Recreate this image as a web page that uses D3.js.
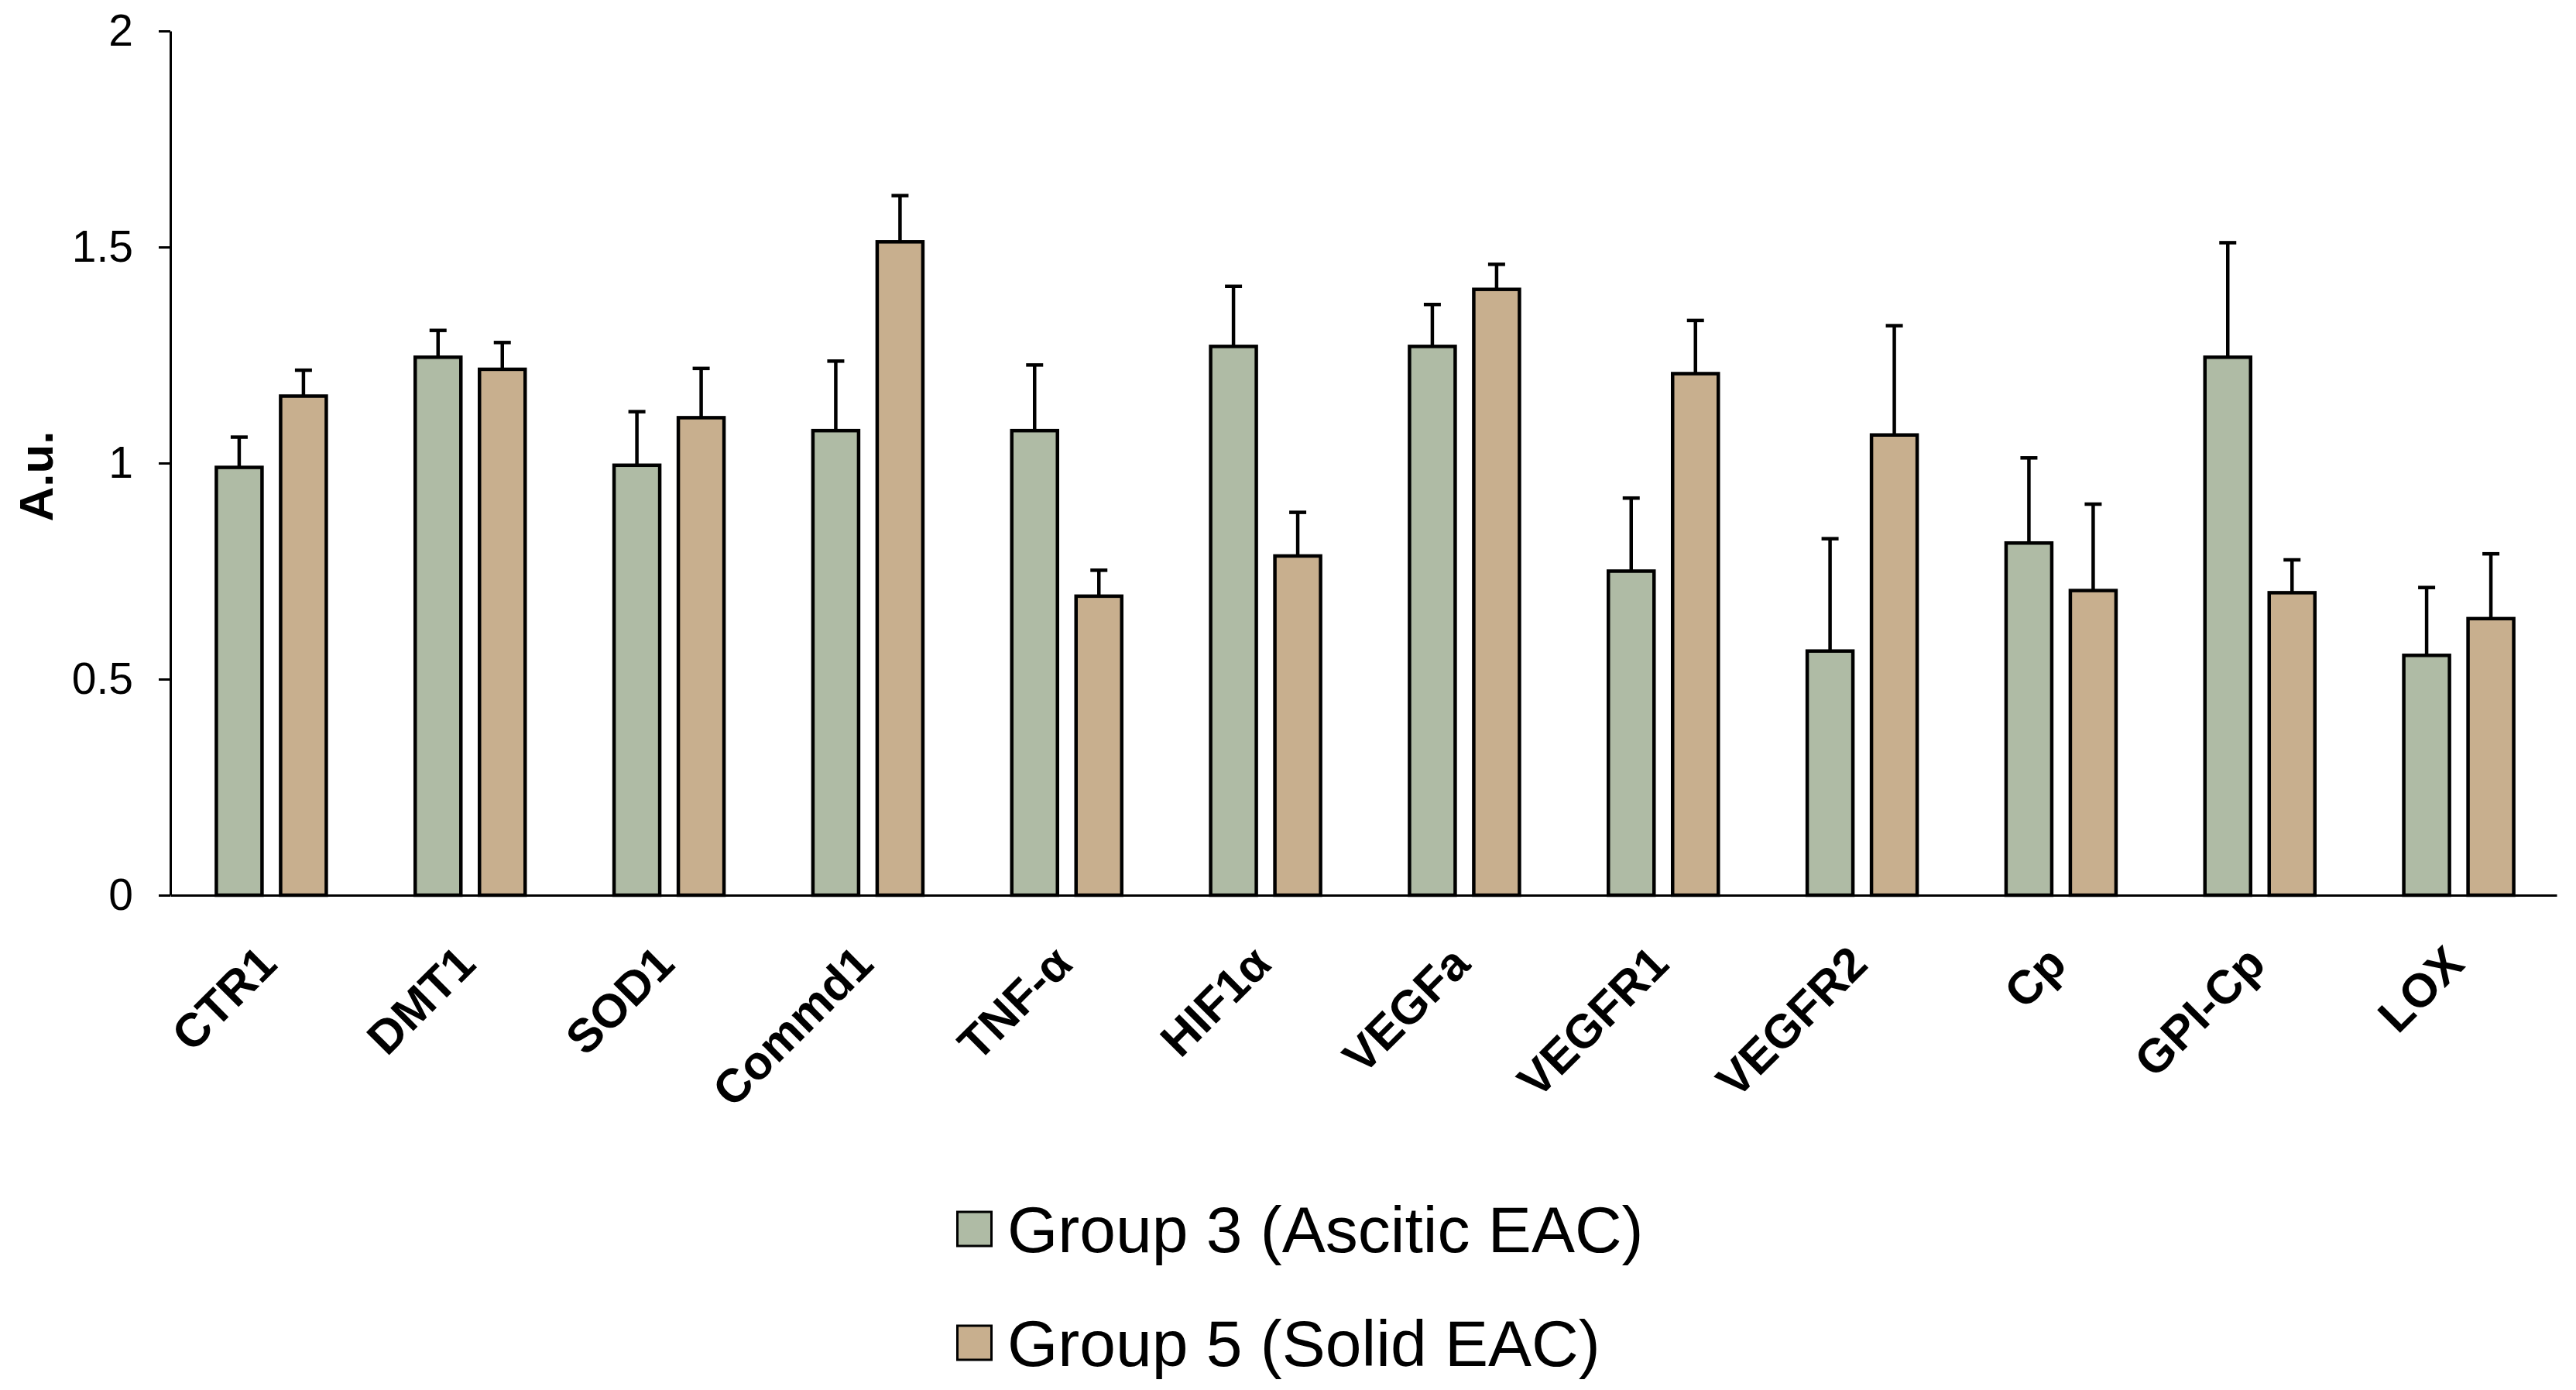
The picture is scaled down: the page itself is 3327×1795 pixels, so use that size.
<!DOCTYPE html>
<html>
<head>
<meta charset="utf-8">
<script src="https://cdn.jsdelivr.net/npm/d3@7"></script>
<style>
  body { margin: 0; background: #fff; }
  svg { display: block; font-family: "Liberation Sans", Arial, sans-serif; }
</style>
</head>
<body>
<div id="chart"></div>
<script>
// values
const genes = ["CTR1", "DMT1", "SOD1", "Commd1", "TNF-α", "HIF1α", "VEGFa", "VEGFR1", "VEGFR2", "Cp", "GPI-Cp", "LOX"];
const seriesNames = ["Group 3 (Ascitic EAC)", "Group 5 (Solid EAC)"];
const group3 = [0.99, 1.245, 0.995, 1.075, 1.075, 1.27, 1.27, 0.75, 0.565, 0.815, 1.245, 0.555];
const group3Err = [0.07, 0.062, 0.124, 0.161, 0.152, 0.139, 0.097, 0.169, 0.26, 0.197, 0.265, 0.157];
const group5 = [1.155, 1.217, 1.105, 1.512, 0.692, 0.785, 1.402, 1.207, 1.065, 0.705, 0.7, 0.64];
const group5Err = [0.06, 0.062, 0.114, 0.107, 0.06, 0.101, 0.058, 0.123, 0.253, 0.2, 0.076, 0.15];
const yTicks = [0, 0.5, 1, 1.5, 2];
const colors = ["#afbba5", "#c8af8e"];

const width = 3327, height = 1795;
const margin = { top: 40, left: 220, right: 25, bottom: 639 };

const svg = d3.select("#chart").append("svg")
  .attr("width", width)
  .attr("height", height);

svg.append("rect").attr("width", width).attr("height", height).attr("fill", "#fff");

// scales
const x0 = d3.scaleBand()
  .domain(genes)
  .range([margin.left, width - margin.right])
  .padding(0);

const x1 = d3.scaleBand()
  .domain([0, 1])
  .range([0, 142])
  .paddingInner(0.289)
  .paddingOuter(0);

const y = d3.scaleLinear()
  .domain([0, 2])
  .range([height - margin.bottom, margin.top]);

// build rows for drawing
const rows = [];
genes.forEach((g, i) => {
  rows.push({ gene: g, s: 0, v: group3[i], e: group3Err[i] });
  rows.push({ gene: g, s: 1, v: group5[i], e: group5Err[i] });
});
const groupX = g => x0(g) + x0.bandwidth() / 2 - 71 + 2;

// error bars (drawn first so bar outline sits on top)
const err = svg.append("g").attr("stroke", "#000").attr("stroke-width", 4.5);
err.selectAll("line.v")
  .data(rows)
  .join("line")
  .attr("class", "v")
  .attr("x1", d => groupX(d.gene) + x1(d.s) + x1.bandwidth() / 2)
  .attr("x2", d => groupX(d.gene) + x1(d.s) + x1.bandwidth() / 2)
  .attr("y1", d => y(d.v))
  .attr("y2", d => y(d.v + d.e));
err.selectAll("line.cap")
  .data(rows)
  .join("line")
  .attr("class", "cap")
  .attr("x1", d => groupX(d.gene) + x1(d.s) + x1.bandwidth() / 2 - 11)
  .attr("x2", d => groupX(d.gene) + x1(d.s) + x1.bandwidth() / 2 + 11)
  .attr("y1", d => y(d.v + d.e))
  .attr("y2", d => y(d.v + d.e));

// bars
svg.append("g")
  .selectAll("rect")
  .data(rows)
  .join("rect")
  .attr("x", d => groupX(d.gene) + x1(d.s))
  .attr("width", x1.bandwidth())
  .attr("y", d => y(d.v))
  .attr("height", d => y(0) - y(d.v))
  .attr("fill", d => colors[d.s])
  .attr("stroke", "#000")
  .attr("stroke-width", 4.5);

// y axis
const yAxis = svg.append("g")
  .attr("transform", `translate(${margin.left},0)`)
  .call(d3.axisLeft(y)
    .tickValues(yTicks)
    .tickSize(15)
    .tickSizeOuter(0)
    .tickPadding(33)
    .tickFormat(d => String(d)));
yAxis.select(".domain").attr("stroke-width", 3);
yAxis.selectAll(".tick line").attr("stroke-width", 3);
yAxis.selectAll("text")
  .attr("font-size", "57px")
  .attr("fill", "#000")
  .attr("font-family", "'Liberation Sans', Arial, sans-serif");

// x axis
const xAxis = svg.append("g")
  .attr("transform", `translate(0,${y(0)})`)
  .call(d3.axisBottom(x0).tickSize(0).tickSizeOuter(0));
xAxis.select(".domain").attr("stroke-width", 3);
xAxis.selectAll("text")
  .attr("y", 0)
  .attr("dy", 0)
  .attr("transform", "translate(12,92) rotate(-45)")
  .attr("text-anchor", "end")
  .attr("font-size", "61px")
  .attr("font-weight", "bold")
  .attr("fill", "#000")
  .attr("font-family", "'Liberation Sans', Arial, sans-serif");

// y label
svg.append("text")
  .attr("transform", "translate(68,615) rotate(-90)")
  .attr("text-anchor", "middle")
  .attr("font-size", "62px")
  .attr("font-weight", "bold")
  .text("A.u.");

// legend
const legend = svg.append("g")
  .selectAll("g")
  .data(seriesNames)
  .join("g")
  .attr("transform", (d, i) => `translate(1235,${1617 + i * 147})`);
legend.append("rect")
  .attr("x", 1.5)
  .attr("y", -52)
  .attr("width", 44)
  .attr("height", 44)
  .attr("fill", (d, i) => colors[i])
  .attr("stroke", "#000")
  .attr("stroke-width", 3);
legend.append("text")
  .attr("x", 66)
  .attr("y", 0)
  .attr("font-size", "84px")
  .text(d => d);
</script>
</body>
</html>
